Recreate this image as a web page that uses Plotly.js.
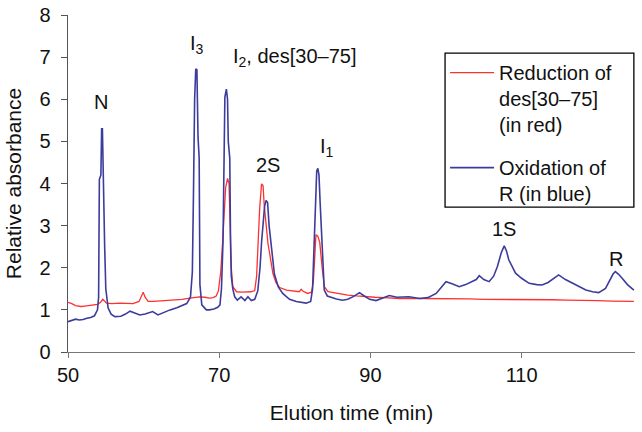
<!DOCTYPE html>
<html>
<head>
<meta charset="utf-8">
<script src="https://cdn.plot.ly/plotly-3.0.1.min.js"></script>
<style>html,body{margin:0;padding:0;background:#fff;}#chart{width:642px;height:432px;}</style>
</head>
<body>
<div id="chart"></div>
<script>
// Oxidation of R (blue)
const tBlue = [
  50, 50.5, 51, 51.5, 52, 52.5, 53, 53.5, 53.9, 54.05,
  54.15, 54.35, 54.45, 54.55, 54.65, 54.85, 55.0, 55.3, 55.7, 56.2,
  57.0, 57.6, 58.2, 58.8, 59.5, 60.2, 60.7, 61.2, 61.9, 62.6,
  63.5, 64.4, 65.0, 65.7, 66.2, 66.45, 66.6, 66.75, 66.9, 67.05,
  67.2, 67.35, 67.45, 67.7, 68.3, 68.7, 69.3, 69.8, 70.1, 70.3,
  70.5, 70.6, 70.75, 70.95, 71.1, 71.2, 71.4, 71.5, 71.6, 71.8,
  72.05, 72.4, 72.9, 73.4, 73.8, 74.25, 74.7, 75.1, 75.4, 75.6,
  75.8, 76.0, 76.2, 76.4, 76.6, 76.9, 77.3, 77.8, 78.4, 79.3,
  80.2, 81.5, 82.1, 82.35, 82.55, 82.7, 82.9, 83.05, 83.2, 83.35,
  83.5, 83.7, 83.9, 84.3, 84.8, 85.5, 86.3, 87.0, 87.8, 88.55,
  89.2, 89.9, 90.75, 91.6, 92.5, 93.5, 95.1, 96.5, 97.6, 98.7,
  99.4, 100.0, 100.8, 101.75, 102.6, 103.5, 104.0, 104.4, 105.0, 105.7,
  106.3, 106.8, 107.3, 107.7, 108.0, 108.3, 109.2, 110.0, 111.0, 112.0,
  112.7, 113.5, 114.2, 114.9, 115.8, 116.7, 117.6, 118.5, 119.4, 120.2,
  121.1, 121.7, 122.1, 122.4, 122.8, 123.3, 124.0, 124.85
];
const yBlue = [
  0.72, 0.75, 0.78, 0.76, 0.77, 0.8, 0.82, 0.86, 1.0, 1.3,
  4.1, 4.2, 5.3, 5.3, 4.1, 2.5, 1.5, 1.05, 0.9, 0.84,
  0.85, 0.9, 0.97, 0.92, 0.88, 0.9, 0.93, 0.96, 0.88, 0.94,
  1.0, 1.05, 1.1, 1.15, 1.3, 1.9, 3.8, 6.0, 6.72, 6.7,
  5.1, 4.6, 1.6, 1.12, 1.0, 1.0, 1.02, 1.06, 1.12, 1.5,
  2.6, 3.8, 6.05, 6.24, 6.0, 5.0, 4.6, 2.6, 1.8, 1.5,
  1.31, 1.23, 1.31, 1.22, 1.31, 1.22, 1.25, 1.45, 2.0, 2.6,
  3.1, 3.45, 3.6, 3.55, 3.0, 2.5, 1.85, 1.55, 1.39, 1.25,
  1.2, 1.16, 1.2, 1.5, 2.5, 3.6, 4.3, 4.36, 4.2, 3.55,
  3.0, 2.18, 1.47, 1.33, 1.3, 1.26, 1.23, 1.25, 1.32, 1.41,
  1.33, 1.25, 1.22, 1.28, 1.34, 1.3, 1.31, 1.27, 1.29, 1.39,
  1.55, 1.67, 1.62, 1.55, 1.6, 1.67, 1.72, 1.81, 1.72, 1.67,
  1.8, 2.03, 2.35, 2.52, 2.4, 2.19, 1.87, 1.75, 1.63, 1.6,
  1.59, 1.65, 1.75, 1.83, 1.72, 1.63, 1.55, 1.47, 1.43, 1.41,
  1.51, 1.72, 1.85, 1.91, 1.85, 1.75, 1.6, 1.47
];
// Reduction of des[30-75] (red)
const tRed = [
  50, 50.5, 51, 51.7, 52.2, 52.8, 53.3, 53.9, 54.3, 54.6,
  55.1, 55.8, 56.9, 57.8, 58.6, 59.4, 59.75, 59.95, 60.2, 60.6,
  61.3, 62.1, 63.1, 64.1, 65.1, 66.1, 66.8, 67.4, 68.1, 68.7,
  69.2, 69.6, 69.9, 70.2, 70.45, 70.65, 70.85, 71.1, 71.3, 71.45,
  71.6, 71.8, 72.3, 73.0, 73.6, 74.2, 74.7, 74.95, 75.15, 75.35,
  75.6, 75.8, 75.95, 76.15, 76.45, 76.8, 77.1, 77.5, 78.0, 78.9,
  79.8, 80.6, 80.85, 81.1, 81.7, 82.2, 82.45, 82.6, 82.8, 83.05,
  83.3, 83.6, 83.9, 84.4, 85.2, 85.9, 87.0, 88.2, 89.4, 90.6,
  91.8, 93.8, 96.5, 99, 101, 103, 105, 107, 109.7, 112,
  114, 116, 118, 120, 122, 123.5, 124.85
];
const yRed = [
  1.18, 1.15, 1.1, 1.08, 1.09, 1.1, 1.12, 1.13, 1.18, 1.25,
  1.16, 1.15, 1.16, 1.15, 1.15, 1.2, 1.35, 1.42, 1.3, 1.2,
  1.2, 1.21, 1.22, 1.22, 1.25, 1.28, 1.3, 1.31, 1.3, 1.28,
  1.29, 1.33, 1.45, 1.9, 2.6, 3.4, 3.9, 4.12, 4.0, 3.0,
  2.0, 1.55, 1.43, 1.42, 1.43, 1.43, 1.46, 1.8, 2.6, 3.4,
  3.99, 3.95, 3.5, 3.06, 2.58, 2.2, 1.87, 1.65, 1.53, 1.47,
  1.44, 1.43, 1.49, 1.44, 1.39, 1.42, 1.65, 2.3, 2.78, 2.75,
  2.6, 2.03, 1.55, 1.43, 1.4, 1.38, 1.35, 1.33, 1.31, 1.3,
  1.29, 1.27, 1.27, 1.27, 1.26, 1.26, 1.25, 1.25, 1.25, 1.24,
  1.24, 1.23, 1.23, 1.22, 1.21, 1.21, 1.2
];
// Peak labels
const peakLabels = ['N', 'I<sub>3</sub>', 'I<sub>2</sub>, des[30–75]', '2S', 'I<sub>1</sub>', '1S', 'R'];
const peakX = [54.4, 67.0, 80.0, 76.5, 84.2, 107.7, 122.5];
const peakY = [5.94, 7.3, 7.0, 4.45, 4.85, 2.92, 2.21];
const xTicks = [50, 70, 90, 110];

const font = 'Arial, "Liberation Sans", sans-serif';
const traces = [
  {x: tRed, y: yRed, type: 'scatter', mode: 'lines', name: 'Reduction of<br>des[30–75]<br>(in red)',
   line: {color: '#ff3030', width: 1.3}, legendgroup: 'a'},
  {x: tBlue, y: yBlue, type: 'scatter', mode: 'lines', name: 'Oxidation of<br>R (in blue)',
   line: {color: '#3c3c9c', width: 1.6}, legendgroup: 'b'}
];
const annotations = peakLabels.map((t, i) => ({
  x: peakX[i], y: peakY[i], xref: 'x', yref: 'y', text: t, showarrow: false,
  font: {family: font, size: 20, color: '#111'}
}));
const layout = {
  width: 642, height: 432,
  margin: {l: 68, r: 7, t: 15, b: 80},
  paper_bgcolor: '#fff', plot_bgcolor: '#fff',
  font: {family: font, size: 19, color: '#111'},
  xaxis: {range: [50, 125], tickvals: xTicks, showline: true, linecolor: '#777', linewidth: 1.3,
    ticks: 'outside', ticklen: 5, tickcolor: '#777', showgrid: false, zeroline: false,
    tickfont: {size: 20}, title: {text: 'Elution time (min)', font: {size: 21}, standoff: 20}},
  yaxis: {range: [0, 8], dtick: 1, showline: true, linecolor: '#555', linewidth: 1.3,
    ticks: 'outside', ticklen: 6, tickcolor: '#555', showgrid: false, zeroline: false,
    tickfont: {size: 20}, ticklabelstandoff: 6,
    title: {text: 'Relative absorbance', font: {size: 21}, standoff: 12}},
  showlegend: true,
  legend: {x: 0.665, y: 0.887, xanchor: 'left', yanchor: 'top', bgcolor: 'rgba(255,255,255,0)',
    borderwidth: 0, font: {size: 20}, tracegroupgap: 14, valign: 'top', itemwidth: 44},
  shapes: [{type: 'rect', xref: 'paper', yref: 'paper', x0: 0.665, x1: 0.998, y0: 0.43, y1: 0.887,
    line: {color: '#000', width: 1.3}, fillcolor: 'rgba(0,0,0,0)'}],
  annotations: annotations
};
Plotly.newPlot('chart', traces, layout, {displayModeBar: false, staticPlot: true});
</script>
</body>
</html>
